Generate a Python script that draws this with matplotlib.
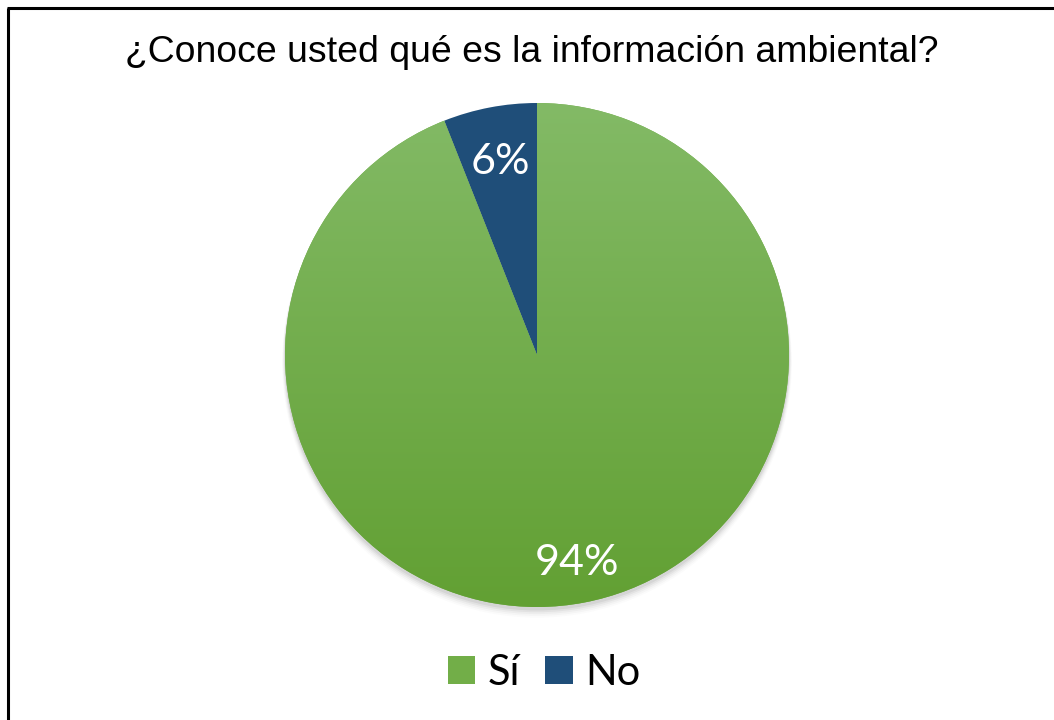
import numpy as np
import matplotlib
matplotlib.use("Agg")
import matplotlib.pyplot as plt
from matplotlib.colors import LinearSegmentedColormap
from matplotlib.patches import Patch

title = "¿Conoce usted qué es la información ambiental?"
categories = ["Sí", "No"]
values = [94, 6]
label_text = ["94%", "6%"]

W, H = 1054, 720
fig = plt.figure(figsize=(W / 100, H / 100), dpi=100)
ax = fig.add_axes([0, 0, 1, 1])
ax.set_xlim(0, W)
ax.set_ylim(0, H)
ax.set_aspect("equal")
ax.axis("off")

# frame (top and left visible)
ax.plot([8, 8], [-5, H - 8], color="black", lw=2.2, solid_capstyle="butt")
ax.plot([7, W + 5], [H - 8, H - 8], color="black", lw=2.2, solid_capstyle="butt")

cx, cy, R = 537, H - 355, 252
blue = "#1f4e79"
green_mid = "#70ad47"

# soft shadow
for i, a in enumerate(np.linspace(0.05, 0.015, 5)):
    sh = plt.Circle((cx, cy - 3 - i * 1.2), R + 0.5 + i * 0.6, color="black", alpha=a, lw=0, zorder=1)
    ax.add_patch(sh)

wedges, _ = ax.pie(values, colors=[green_mid, blue], startangle=90, counterclock=False,
                   center=(cx, cy), radius=R, frame=False,
                   wedgeprops=dict(linewidth=0, zorder=2))
ax.set_xlim(0, W)
ax.set_ylim(0, H)

# gradient fill for green wedge
cmap = LinearSegmentedColormap.from_list("g", ["#62a033", "#83ba66"])
grad = np.linspace(0, 1, 256).reshape(-1, 1)
im = ax.imshow(grad, cmap=cmap, extent=(cx - R, cx + R, cy - R, cy + R), origin="lower",
               aspect="auto", zorder=3, interpolation="bicubic")
im.set_clip_path(wedges[0])

# labels
dists = [0.84, 0.78]
for w, t, d in zip(wedges, label_text, dists):
    ang = np.deg2rad((w.theta1 + w.theta2) / 2)
    ax.text(cx + R * d * np.cos(ang), cy + R * d * np.sin(ang), t, color="white",
            fontsize=31, family="Lato", ha="center", va="center", zorder=5)

ax.text(532, H - 52, title, fontsize=26.9, family="Liberation Sans",
        ha="center", va="center", color="black")

handles = [Patch(facecolor="#72ae48", edgecolor="none"), Patch(facecolor=blue, edgecolor="none")]
fig.legend(handles, categories, loc="center", bbox_to_anchor=(544 / W, 1 - 673 / H), ncol=2,
           frameon=False, prop=dict(family="Lato", size=30), handlelength=0.66, handleheight=0.66,
           handletextpad=0.3, columnspacing=0.6)

fig.savefig("out.png", dpi=100)
